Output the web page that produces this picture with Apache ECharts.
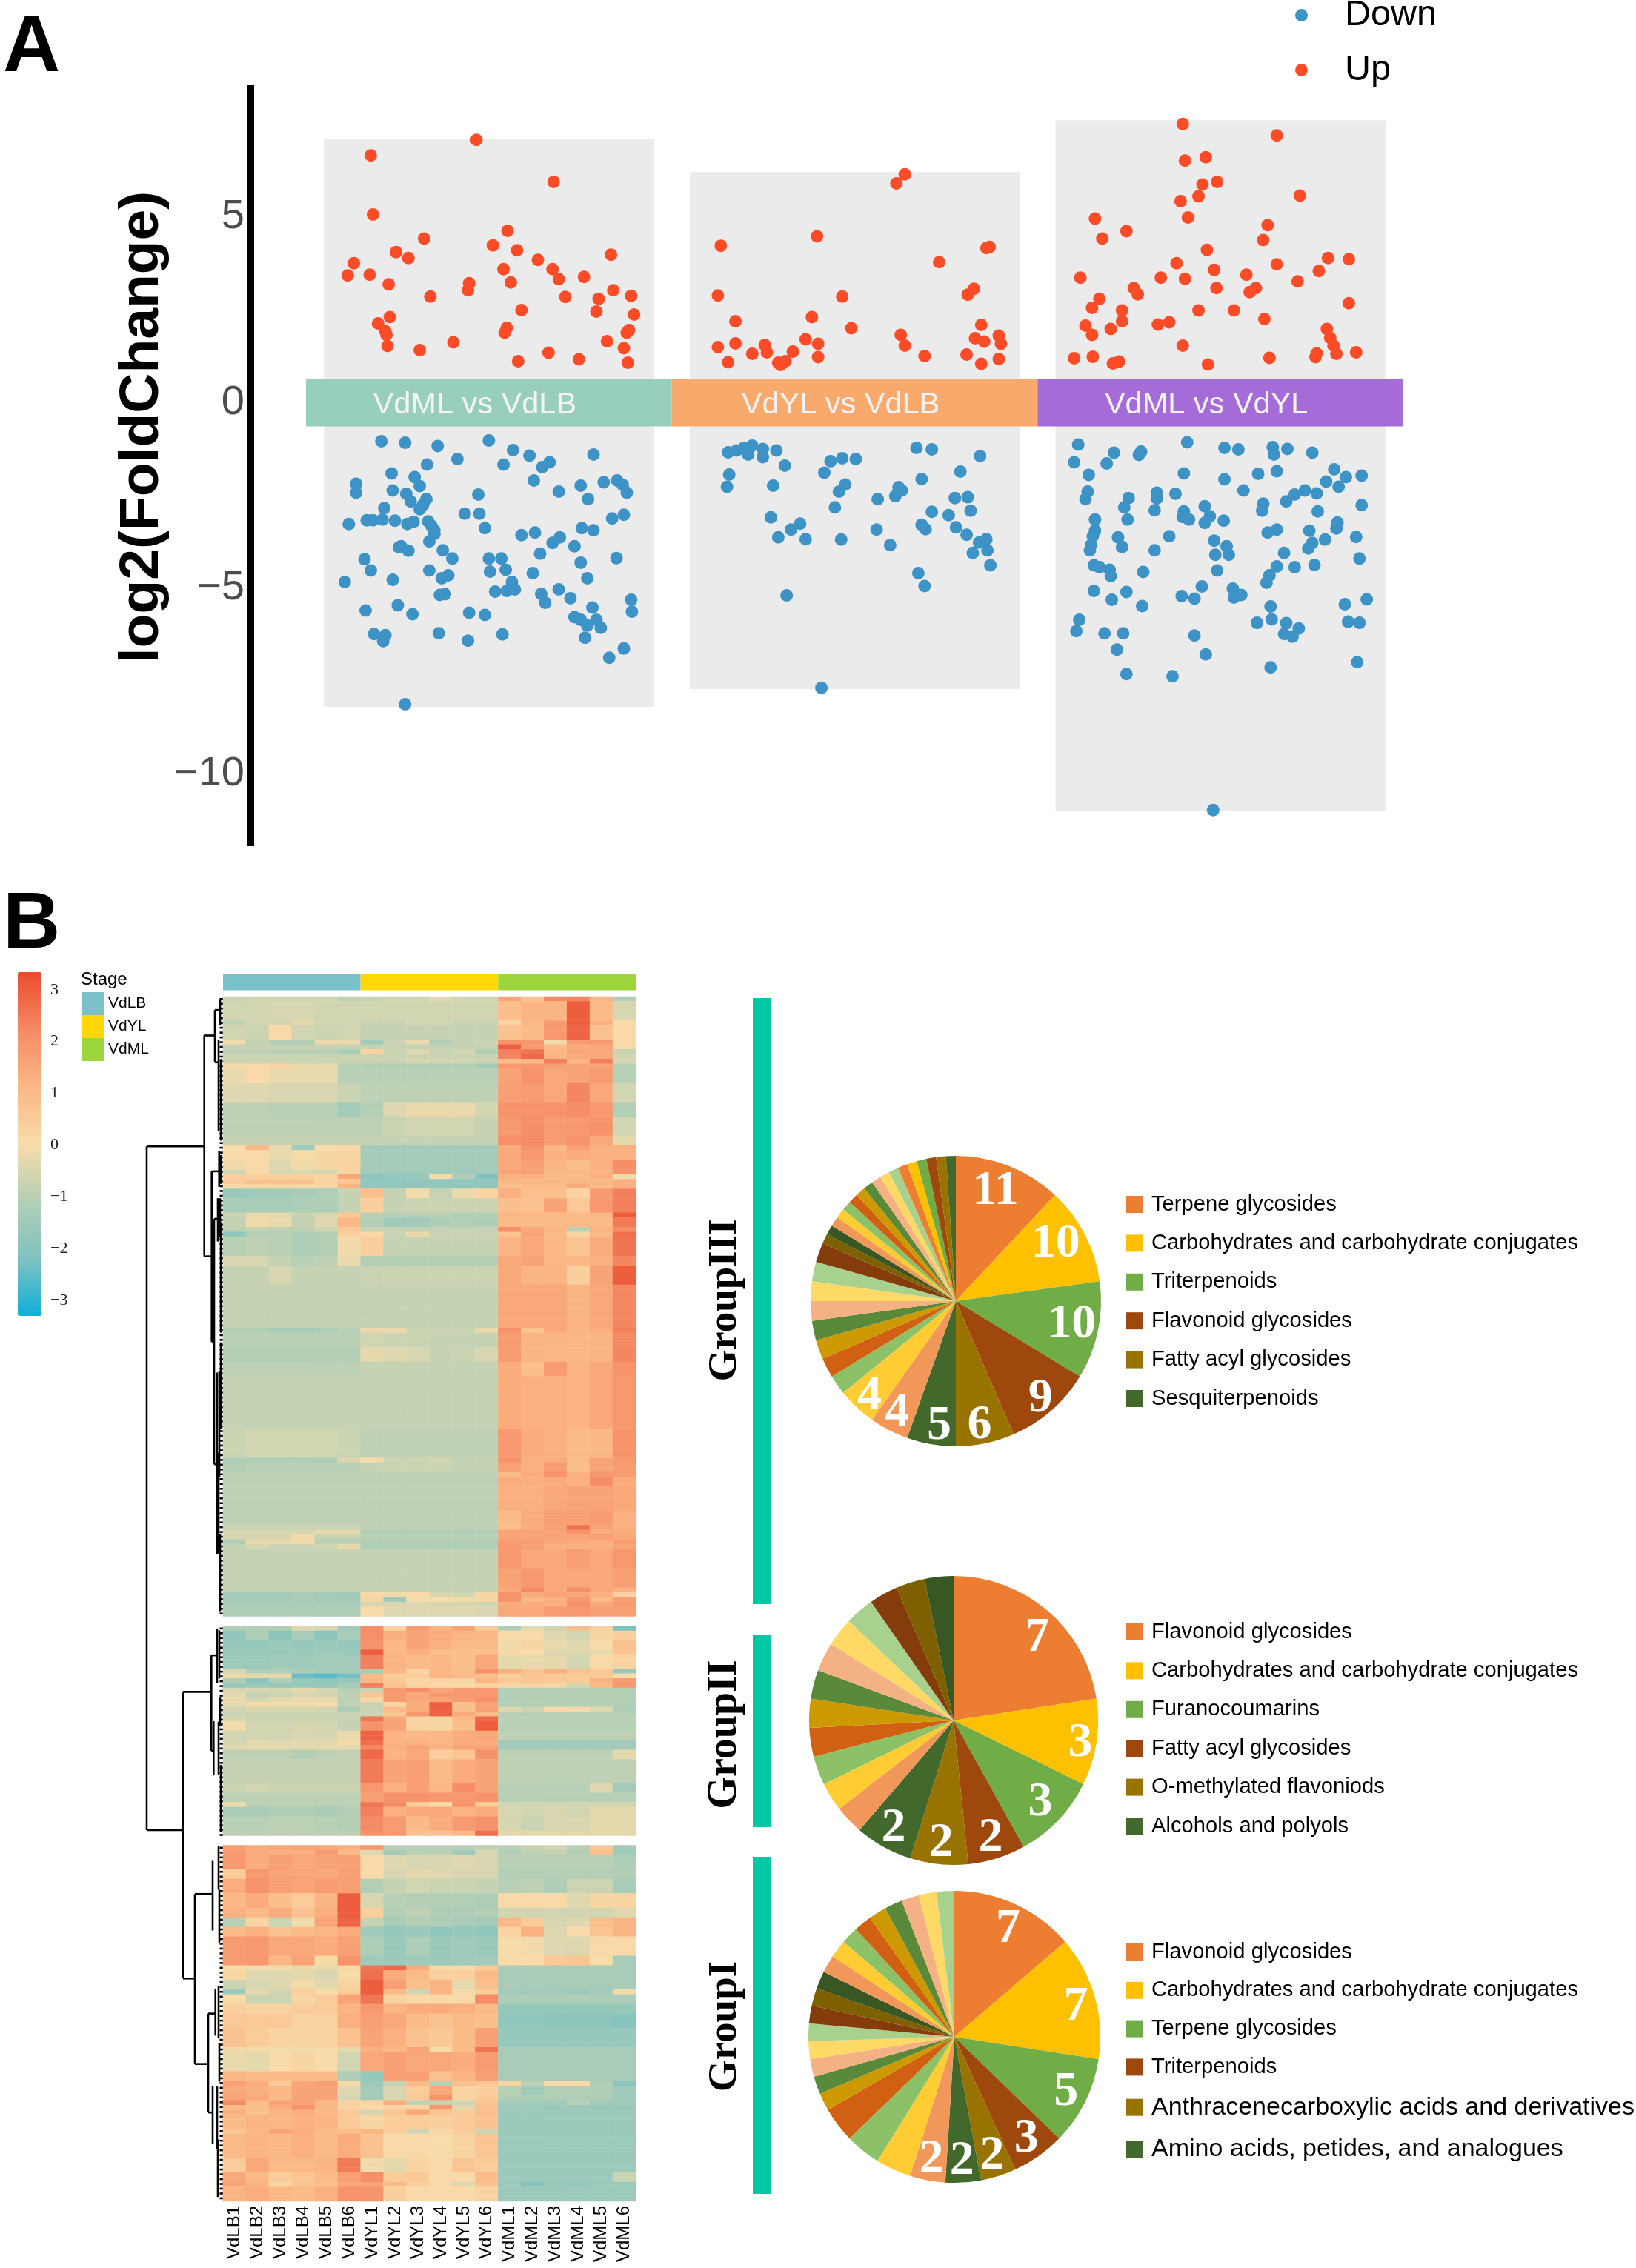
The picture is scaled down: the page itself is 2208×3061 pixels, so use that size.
<!DOCTYPE html>
<html><head><meta charset="utf-8">
<style>html,body{margin:0;padding:0;background:#fff}#c{width:2208px;height:3061px}</style>
<script src="https://cdn.jsdelivr.net/npm/echarts@6/dist/echarts.min.js"></script>
</head><body><div id="c"></div>
<script>
const SANS='"Liberation Sans",Arial,sans-serif', SERIF='"Liberation Serif","Times New Roman",serif';
// Panel A: [jitter 0-100 inside the group, log2(FoldChange)]
const comparisons=['VdML vs VdLB','VdYL vs VdLB','VdML vs VdYL'];
const panelRanges=[[7.1,-8.19],[6.2,-7.71],[7.6,-11.0]];
const up1=[[17.7,6.65],[46.6,7.07],[67.7,5.94],[18.3,5.06],[55.1,4.62],[32.3,4.41],[51.1,4.23],[24.6,4.05],[57.7,4.10],[28,3.89],[13.1,3.75],[63.4,3.84],[83.4,3.98],[67.4,3.59],[54,3.59],[11.4,3.42],[17.4,3.44],[69.1,3.32],[76,3.38],[56,3.23],[44.6,3.21],[22.6,3.18],[44.3,3.02],[34,2.85],[70.9,2.84],[80,2.79],[84,3.02],[88.9,2.87],[58.9,2.49],[79.4,2.45],[89.7,2.37],[22.9,2.30],[19.7,2.13],[21.7,1.92],[22,1.82],[54.9,2.01],[54.3,1.88],[88.3,1.95],[87.7,1.88],[82.3,1.65],[40.3,1.62],[22.3,1.52],[86.9,1.46],[31.1,1.41],[66.3,1.34],[58,1.11],[74.6,1.16],[88,1.07]];
const up2=[[63.7,6.14],[61.4,5.90],[39.7,4.47],[13.4,4.22],[86.9,4.19],[86,4.16],[73.1,3.78],[82.6,3.06],[80.9,2.90],[12.6,2.88],[46.6,2.85],[38.3,2.30],[17.4,2.19],[84.6,2.09],[49.1,2.00],[62.6,1.82],[36.6,1.70],[63.7,1.53],[82.9,1.73],[85.4,1.64],[89.4,1.80],[90,1.58],[17.4,1.59],[40,1.58],[12.6,1.49],[25.4,1.55],[26,1.35],[22,1.31],[33.1,1.37],[69.1,1.25],[80.6,1.29],[40,1.22],[89.4,1.17],[15.4,1.08],[29.1,1.07],[31.1,1.11],[29.7,1.01],[84.6,1.04]];
const up3=[[39.7,7.50],[65.4,7.19],[46,6.60],[40.3,6.51],[49.1,5.94],[45.1,5.87],[71.7,5.57],[44,5.55],[39.1,5.42],[41.1,4.98],[15.7,4.95],[62.9,4.77],[24.3,4.61],[17.7,4.41],[61.7,4.37],[46.3,4.11],[38,3.75],[79.4,3.89],[85.1,3.86],[65.4,3.72],[48.3,3.57],[76.9,3.54],[57.1,3.44],[11.7,3.36],[33.7,3.36],[40.3,3.33],[71.1,3.26],[26.3,3.08],[27.4,2.91],[48.9,3.08],[59.7,3.08],[58,2.97],[16.9,2.79],[14.9,2.55],[85.1,2.67],[23.1,2.48],[44,2.48],[53.7,2.48],[23.1,2.19],[62,2.25],[13.1,2.07],[32.9,2.10],[36,2.16],[20,1.98],[79.1,1.98],[14.9,1.82],[80,1.74],[39.7,1.53],[80.9,1.53],[81.7,1.31],[76.3,1.32],[76,1.22],[87.1,1.35],[63.4,1.20],[10,1.19],[15.1,1.23],[22.3,1.10],[20.6,1.05],[46.6,1.02]];
const down1=[[20.6,-1.04],[27.1,-1.08],[50,-1.02],[36,-1.17],[56.6,-1.28],[61.1,-1.43],[78.6,-1.40],[66.6,-1.61],[64.6,-1.74],[41.4,-1.52],[54,-1.67],[33.1,-1.67],[23.4,-1.91],[29.7,-2.01],[62.3,-2.10],[13.7,-2.19],[81.4,-2.15],[85.1,-2.10],[86.6,-2.22],[31.1,-2.25],[13.7,-2.43],[23.7,-2.37],[69.1,-2.40],[75.1,-2.24],[87.7,-2.43],[27.4,-2.46],[47.1,-2.48],[77.1,-2.60],[32.9,-2.60],[28.6,-2.66],[32,-2.75],[31.1,-2.87],[21.4,-2.84],[43.4,-2.99],[47.4,-2.99],[86.9,-3.02],[83.7,-3.12],[16.6,-3.17],[18.3,-3.17],[20.9,-3.15],[24.3,-3.18],[33.4,-3.20],[11.7,-3.27],[29.4,-3.21],[27.7,-3.27],[34.3,-3.32],[48.9,-3.38],[35.1,-3.44],[35.1,-3.54],[75.4,-3.38],[78.6,-3.44],[58.9,-3.57],[62.6,-3.50],[69.4,-3.63],[67.4,-3.78],[33.7,-3.74],[26,-3.87],[25.4,-3.90],[28,-3.99],[73.4,-3.87],[37.4,-3.98],[64,-4.07],[40,-4.20],[50,-4.20],[53.4,-4.20],[16,-4.22],[84.9,-4.19],[75.1,-4.31],[17.7,-4.52],[33.7,-4.52],[50.3,-4.55],[54.6,-4.50],[62,-4.59],[38.9,-4.65],[37.1,-4.73],[76.9,-4.73],[23.7,-4.77],[10.6,-4.83],[56.3,-4.83],[57.1,-5.03],[54.9,-5.07],[51.7,-5.09],[69.1,-5.03],[38,-5.16],[36.6,-5.18],[64.3,-5.15],[72.3,-5.27],[65.4,-5.39],[88.9,-5.31],[25.1,-5.46],[78.3,-5.52],[16.3,-5.60],[29.1,-5.70],[44.6,-5.66],[48.9,-5.72],[89.1,-5.63],[73.4,-5.78],[75.1,-5.85],[79.4,-5.85],[76.9,-6.00],[80.6,-6.06],[36.3,-6.21],[18.6,-6.23],[21.7,-6.26],[21.1,-6.42],[44.3,-6.41],[53.7,-6.24],[76.3,-6.33],[86.9,-6.62],[82.9,-6.87],[27.1,-8.12]];
const down2=[[15.4,-1.34],[17.7,-1.29],[19.7,-1.22],[22,-1.16],[20.9,-1.40],[24.9,-1.25],[24.9,-1.47],[28.6,-1.29],[30.9,-1.70],[43.4,-1.58],[46.6,-1.50],[50.3,-1.52],[66.9,-1.22],[71.1,-1.26],[84.3,-1.44],[41.7,-1.89],[15.7,-1.94],[78.9,-1.86],[68.3,-2.06],[15.1,-2.27],[27.7,-2.24],[47.4,-2.21],[45.7,-2.40],[62,-2.28],[62.9,-2.37],[61.1,-2.52],[56.3,-2.60],[77.4,-2.57],[80.9,-2.55],[44.6,-2.82],[71.1,-2.94],[81.7,-2.91],[75.7,-3.03],[27.1,-3.09],[35.1,-3.26],[32.6,-3.42],[29.1,-3.63],[36.6,-3.68],[46.3,-3.69],[56,-3.42],[68.3,-3.29],[69.4,-3.41],[77.7,-3.36],[80.6,-3.56],[59.7,-3.84],[84,-3.77],[86,-3.68],[86.3,-3.98],[82.3,-4.05],[87.1,-4.38],[67.4,-4.59],[69.1,-4.94],[31.4,-5.19],[40.9,-7.68]];
const down3=[[11.1,-1.13],[40.9,-1.07],[51.1,-1.22],[54.9,-1.26],[64.3,-1.20],[68.3,-1.25],[64.6,-1.40],[75.1,-1.35],[20.9,-1.35],[28.3,-1.32],[27.7,-1.41],[10,-1.61],[18.9,-1.64],[14,-1.95],[40,-1.91],[51.1,-2.07],[60.3,-1.92],[65.4,-1.85],[81.1,-1.80],[88.6,-1.97],[84.3,-2.01],[78.9,-2.13],[82.3,-2.27],[56.3,-2.37],[76.3,-2.45],[73.1,-2.37],[70.3,-2.48],[68,-2.66],[13.7,-2.40],[13.1,-2.60],[24.9,-2.57],[32.6,-2.43],[32.6,-2.58],[37.7,-2.46],[23.7,-2.82],[32,-2.90],[45.7,-2.79],[61.7,-2.72],[61.4,-2.91],[76.6,-2.93],[88.6,-2.76],[40,-2.93],[39.7,-3.08],[41.4,-3.15],[47.1,-3.06],[45.7,-3.24],[50.9,-3.18],[24.6,-3.15],[15.7,-3.15],[82,-3.23],[81.7,-3.39],[15.7,-3.45],[15.1,-3.60],[65.4,-3.42],[62.9,-3.50],[74.3,-3.45],[87.1,-3.62],[22,-3.63],[36,-3.60],[48.3,-3.72],[78.6,-3.69],[75.1,-3.78],[74,-3.93],[14.6,-3.84],[14.3,-3.98],[23.1,-3.89],[32,-3.98],[51.7,-3.87],[52.3,-4.10],[48.6,-4.10],[67.4,-4.05],[88,-4.20],[15.4,-4.38],[16.9,-4.43],[19.7,-4.50],[20,-4.67],[28.9,-4.56],[65.4,-4.41],[70.3,-4.43],[75.7,-4.37],[49.1,-4.52],[63.4,-4.65],[62.6,-4.85],[44.9,-4.95],[15.4,-5.07],[24.3,-5.10],[53.4,-5.01],[20.3,-5.31],[39.4,-5.21],[42.9,-5.28],[53.7,-5.25],[55.7,-5.18],[90,-5.30],[84,-5.43],[28.6,-5.48],[63.7,-5.49],[11.4,-5.85],[64,-5.84],[60,-5.93],[68,-5.94],[71.4,-6.08],[84.9,-5.90],[88,-5.93],[10.6,-6.15],[18.3,-6.21],[23.4,-6.21],[42.9,-6.27],[67.4,-6.23],[69.7,-6.30],[21.7,-6.65],[46,-6.78],[63.7,-7.13],[87.4,-6.99],[24.3,-7.31],[36.9,-7.37],[48,-10.97]];
const yTicks=[-10,-5,0,5];
// Panel B heatmap: samples and row blocks [row count, 18 z-scores]
const samples=['VdLB1','VdLB2','VdLB3','VdLB4','VdLB5','VdLB6','VdYL1','VdYL2','VdYL3','VdYL4','VdYL5','VdYL6','VdML1','VdML2','VdML3','VdML4','VdML5','VdML6'];
const stages=['VdLB','VdYL','VdML'];
const colorTicks=[-3,-2,-1,0,1,2,3];
const groupIII=[
[1,-.7,-.6,-.6,-.6,-.6,-.9,-.8,-.6,-.6,-.3,-.6,-.6,1.6,.8,2.2,2.3,1.2,-1.1],
[4,-.6,-.6,-.5,-.5,-.6,-.6,-.6,-.6,-.6,-.6,-.6,-.6,.9,1.2,1.2,3,1,-.5],
[1,-.9,-.6,-.6,-.3,-.6,-.6,-.8,-.7,-.6,-.6,-.7,-.7,.3,1.1,1.8,3,1.3,0],
[3,-.6,-.7,.1,-.6,-.7,-.6,-.8,-.8,-.8,-.8,-.8,-.8,.8,1,1.9,2.9,.8,.1],
[1,-.1,-.8,-1.1,-1.1,-.2,-.2,-1.5,-.7,-.2,-1.1,-.8,-.7,2,1.9,-.1,1.8,1.9,.1],
[1,-.8,-.8,-.8,-.8,-.8,-.8,-.8,-.8,-.8,-.8,-.8,-.8,3,1.8,1,1.4,1.5,.1],
[1,-.9,-.9,-1,-1,-1,-1.3,.3,-.7,-.4,-.8,-.6,-1.1,2.4,2.6,1.1,1.5,1.5,-.7],
[1,-.7,-.7,-.7,-.7,-.7,-.7,-.7,-.7,-.7,-.7,-.7,-.7,2.3,2.8,1.2,1.4,1.5,-.6],
[1,-.7,-.7,-.7,-.7,-.7,-.7,-.7,-.7,-.5,-.6,-.6,-.7,1,1.1,2.4,1.1,2.4,-.5],
[1,0,.1,.3,-.2,-.2,-1,-1.1,-1.1,-1.1,-1.1,-1.1,-1.4,1.9,1.9,1.7,1.6,1.6,-1],
[3,-.2,.1,-.2,-.2,-.2,-1,-1,-1,-1,-1,-1,-1,1.6,2,1.5,1.6,1.8,-1],
[4,-.4,-.4,-.5,-.5,-.5,-.7,-.9,-.9,-.9,-.9,-.9,-.9,1.7,1.8,1.5,2.3,1.5,-.6],
[3,-.9,-.9,-1,-1,-1,-1.4,-1.1,-.4,-.2,-.2,-.2,-.6,2,2,2,2.1,1.9,-1.1],
[4,-.9,-.9,-.9,-.9,-.9,-.9,-.9,-.7,-.6,-.6,-.6,-.8,1.9,2.1,1.8,1.9,2,-.6],
[2,-.8,-.8,-.8,-.8,-.8,-.8,-.8,-.8,-.8,-.8,-.8,-.8,2.1,2.2,1.8,2,1.5,-.3],
[1,0,1,-.2,-1.5,0,.1,-1.4,-1.4,-1.4,-1.4,-1.4,-1.4,1.4,2,1.1,1.7,1.3,1.3],
[2,0,.1,-.2,0,.2,.2,-1.4,-1.4,-1.4,-1.4,-1.4,-1.4,1.5,1.9,1.3,1.4,1.3,1.3],
[2,-.1,.1,-.4,-.1,.2,.3,-1.4,-1.4,-1.4,-1.4,-1.4,-1.4,1.5,1.7,1.2,.9,1.3,2.1],
[1,-.6,.1,-.5,-.4,-.5,.3,-1.5,-1.5,-1.5,-1.5,-1.5,-1.5,1.6,1.7,1.1,1.1,1.2,2],
[1,.4,.4,.4,.4,.2,1.5,-1.9,-1.8,-1.7,-.1,-1.2,-2.1,1.3,1.3,1,1,1.3,-.1],
[1,.6,.8,.8,.8,.3,.6,-1.8,-1.8,-1.8,-1.8,-1.8,-1.8,1.1,1.1,1.1,1.1,1.1,1.3],
[1,.1,.2,.2,.2,.2,1.2,-1.8,-1.8,-1.8,-1.8,-1.8,-1.8,.9,1,1,1.4,1,1.3],
[2,-1.6,-1.5,-1.4,-1.3,-1.2,-.8,.9,-.8,-.1,-.8,-.2,.3,1.3,.9,.9,.3,1.8,2.4],
[3,-1.3,-1.3,-1.3,-1.2,-1.2,-.8,.4,-.8,-.7,-.7,-.7,-.7,.9,.8,1.6,.6,1.9,2.4],
[1,-.7,-.3,-.3,-.7,-.5,.6,-1,-1,-1,-1,-1.1,-1.1,1.1,1.1,1,1,1.1,3],
[2,-.8,-.1,-.2,-.8,-.4,1.1,-1.1,-1.5,-1.4,-1.2,-1.1,-1.2,1,1,1,1,1,2.5],
[1,-.9,-.8,-.9,-.9,-.6,.6,-.8,-.8,-.8,-.8,-.8,-.8,2.1,1.5,1.2,-1,1.2,2.1],
[1,-1.8,-1.1,-1,-1.2,-1.1,.4,.1,-.7,-.2,-.7,-.7,-.7,.8,1.6,1,.2,1,2.7],
[4,-1,-.9,-1,-1.2,-1.1,-.1,.4,-.8,-.8,-.8,-.8,-.8,1.2,1.5,1.1,.7,1.4,2.6],
[2,-.5,-.5,-.8,-1,-.9,-.2,-1.1,-1.1,-1.1,-1.1,-1.1,-1.1,1.5,1.6,1.1,1.1,1.3,2.3],
[4,-.8,-.8,-.5,-.8,-.8,-.8,-.7,-.7,-.7,-.7,-.7,-.7,1.5,1.2,1.2,.4,1.6,3],
[9,-.8,-.8,-.8,-.8,-.8,-.8,-.8,-.8,-.8,-.8,-.8,-.8,1.5,1.5,1.5,1.2,1.5,2.3],
[1,-1.1,-1.1,-1.3,-1.3,-1.2,-1,-.2,-.2,-.7,-.7,-.7,-.2,2,.7,1.5,1.2,1.4,2.4],
[3,-1,-1,-1,-1,-1,-1,-.6,-.7,-.7,-.8,-.8,-.8,1.8,1.2,1.2,1.1,1.2,2.2],
[3,-1.1,-1.1,-1.1,-1.1,-1.1,-1.1,-.3,-.4,-.5,-.8,-.7,-.5,1.8,1.2,1.1,1.1,1.2,2.3],
[3,-.9,-.9,-.9,-.9,-.9,-.9,-.8,-.8,-.8,-.8,-.8,-.8,1.4,.9,1.8,1.2,1.5,2],
[11,-.8,-.8,-.8,-.8,-.8,-.8,-.8,-.8,-.8,-.8,-.8,-.8,1.4,1.3,1.3,1.2,1.5,1.9],
[6,-.7,-.6,-.6,-.6,-.6,-.7,-.9,-.9,-.9,-.9,-.9,-.9,1.9,1.4,1.3,1,1.1,2],
[1,-1.2,-1.2,-1.2,-1.2,-1.2,-.5,-.1,-.7,-.7,-.6,-.8,-.8,2,1.3,1.4,1,1.6,1.9],
[2,-1.1,-1,-1,-1,-1,-1,-.8,-.7,-.7,-.7,-.8,-.8,1.7,1.3,1.8,.9,1.6,1.8],
[1,-.9,-.9,-.9,-.9,-.9,-.9,-.9,-.9,-.9,-.9,-.9,-.9,1,1.4,2,1.3,1.9,1.8],
[2,-.9,-.9,-.9,-.9,-.9,-.9,-.9,-.9,-.9,-.9,-.9,-.9,1.4,1.3,1.4,1.3,2.1,1.4],
[5,-.9,-.9,-.9,-.9,-.9,-.9,-.9,-.9,-.9,-.9,-.9,-.9,1.3,1.3,1.5,1.6,1.6,1.5],
[3,-.9,-.9,-.9,-.9,-.9,-.9,-.9,-.9,-.9,-.9,-.9,-.9,1,1.4,1.7,1.7,1.8,1.3],
[1,-.7,-.7,-.7,-.7,-.7,-.7,-.9,-.9,-.9,-.9,-.9,-.9,.9,1.4,1.7,2.7,1.6,1.3],
[1,-.5,-.5,-.5,-.5,-.3,-.3,-1.1,-1.1,-1.1,-1.1,-1.2,-1.1,1.6,1.6,1.6,2,1.4,1.4],
[1,-.5,-.5,-.5,-.1,-.8,-.8,-1,-1,-1,-1,-1,-1,1.6,1.6,1.6,1.6,1.7,1.5],
[1,-1.2,-.2,-.2,-.1,-1,-1,-1.1,-1.1,-1.1,-1.1,-1.1,-1.1,1.8,1.8,1.5,1.4,1.4,1.8],
[1,-.8,-.5,-.7,-.7,-.6,-.2,-1.2,-1.2,-1.2,-1.2,-1.2,-1.2,1.9,1.7,1.3,1.3,1.3,1.6],
[4,-.8,-.8,-.8,-.8,-.8,-.8,-.8,-.8,-.8,-.8,-.8,-.8,1.9,1.5,1.5,1.7,1.5,1.9],
[4,-.8,-.8,-.8,-.8,-.8,-.8,-.8,-.8,-.8,-.8,-.8,-.8,1.6,1.9,1.5,1.5,1.5,1.7],
[1,-.8,-.8,-.8,-.8,-.8,-.8,-.8,-.8,-.8,-.8,-.8,-.8,1.5,2.2,1.5,2.1,1.5,1.3],
[1,-1.4,-1.4,-1.4,-1.3,-1.4,-1.5,.1,-.1,.1,-.5,-.6,.2,2,1.4,1.6,1.5,1.3,.3],
[1,-1.4,-1.4,-1.4,-1.3,-1.4,-1.4,.2,-1.5,-.1,0,-.1,.2,2,1.1,1.3,1.9,1,1.7],
[1,-1.3,-1.3,-1.3,-1.3,-1.3,-1.3,-.5,-.5,-.4,-.5,-.5,-.6,1.4,1.4,1.3,2,1.5,1.8],
[2,-1.2,-1.2,-1.2,-1.2,-1.2,-1.2,0,-.4,-.4,-.4,-.4,-.5,1.5,1.5,1.8,1.9,1.7,1.7]];
const groupII=[
[1,-1.1,-1.1,-1.1,-.4,-.5,-1.5,2.1,.3,1.8,1.2,1.6,.5,-1.2,-.3,-.6,.9,.3,-2.2],
[2,-1.8,-1.2,-1.9,-1.3,-1.9,-1.3,2.1,1.3,1.6,1.4,1.2,1.1,0,.1,-.4,-.6,.2,.4],
[2,-1.7,-1.7,-1.6,-1.7,-1.6,-1.7,2,1.1,1.6,1.3,1,1,-.1,.2,-.2,-.4,0,.8],
[1,-1.6,-1.6,-1.6,-1.6,-1.6,-1.6,3,1.1,1.3,.9,.9,.9,.1,0,-.4,-.4,-.2,.7],
[3,-1.6,-1.6,-1.5,-1.5,-1.4,-1.4,2.4,1.2,1,1.1,.9,1.5,-.3,-.2,-.3,-.6,.1,.3],
[1,-.5,-1.2,-1.1,-1.2,-1.3,-1.4,-1.3,1.1,.3,1.1,.9,2,1.3,.7,1.3,.8,.6,-1.6],
[1,-.2,-.3,-.3,-2.4,-2.6,-2.3,1,.5,.5,1.2,1,.9,.4,.8,.6,.6,.6,0],
[1,-1.1,-1.9,-1.2,-1.7,-1.8,-1.7,1.1,.6,.2,.3,.2,1.2,.6,.7,.6,.5,1.2,1.8],
[1,-1.7,-1.6,-1.7,-1.7,-1.7,-1.3,2.4,.7,.2,.1,.1,.3,.2,.2,.2,-.6,1,1.9],
[1,-.5,-.5,-.5,-.3,-.5,-1,-.7,1.9,2.1,1.6,1.8,1.9,-1.1,-1.1,-1.1,-1.1,-1.1,-1.1],
[1,-.3,-.8,-.7,-.5,-.6,-.9,.7,1.8,1.5,1.9,1.9,1.9,-1.1,-1.1,-1.1,-1.1,-1.1,-1.1],
[1,-.2,-.6,-.3,-.2,-.2,-.9,.2,1.8,1.5,1.6,1.8,2,-1.1,-1.1,-1.1,-1.1,-1.1,-1.1],
[1,-.3,.1,-.1,-.1,0,-.9,-.8,.2,1.4,3,.8,1.6,-1.1,-1.1,-1.1,-1.1,-1.1,-1.1],
[1,-.6,-.5,-.5,-.5,-.6,-1.2,-.7,1,1.4,2.9,.9,1.7,-.4,-.7,.1,-.1,-.4,-1.2],
[1,-.7,-.7,-.7,-.7,-.7,-.7,-.7,.7,1.9,2.9,1.4,1,-1,-1,-1,-1,-1,-1],
[1,-.5,-.7,-.7,-.7,-.7,-.8,2.6,1.5,.2,.2,1,2.8,-.9,-.9,-.9,-.9,-.9,-.9],
[2,-.1,-.6,-.6,-.5,-.6,-.8,2,1.6,.3,.2,.9,3,-1,-1,-1,-1,-1,-1],
[2,-.6,-.6,-.6,-.5,-.5,-.2,2.9,1.2,1.1,1.1,1.4,1.5,-.9,-.9,-.9,-.9,-.9,-.9],
[1,-.5,-.3,-.4,-.3,-.3,0,2.7,1.2,1.3,1.1,1.4,1.4,-1.4,-1.4,-1.4,-1.4,-1.4,-1.4],
[1,-.3,-.3,-.3,-.3,-.3,-.3,2.3,1.3,1.6,1.3,1.6,1.6,-1.4,-1.4,-1.4,-1.4,-1.4,-1.4],
[2,-.9,-.9,-.9,-1.1,-.9,-.8,2.8,1.2,1.5,.4,.7,2,-.9,-.9,-.9,-.9,-.9,-.3],
[5,-.8,-.8,-.8,-.8,-.8,-.8,2.5,1.6,1.7,1,1.4,1.6,-.9,-.9,-.9,-.9,-.9,-.9],
[2,-.7,-.6,-.7,-.7,-.7,-.7,1.9,1.3,1.7,1.1,2.1,1.6,-1,-1,-1,-1,-.4,-1.4],
[2,-.9,-.9,-.9,-.9,-.9,-.9,1.7,2,2,1.9,1.9,2,-1,-1,-1,-1,-1,-1],
[1,-.2,-.9,-.9,-.9,-.9,-.9,2.6,2.2,.5,.1,2,.5,-.6,-.6,-.6,-.6,-.6,-.6],
[2,-1.3,-1.3,-1.2,-1.2,-1.3,-1.1,2.4,1.3,1.5,1.5,1.2,1.4,-.5,-.6,-.5,-.6,-.3,-.3],
[3,-1,-1,-.9,-.9,-1,-1.1,2.2,1.8,1,1.4,1.8,2,-.5,-.7,-.5,-.5,-.3,-.3],
[1,-.9,-.9,-.9,-.9,-.9,-.9,2,1.9,.8,.8,1.1,2.7,-.3,-.3,-.3,-.3,-.3,-.3]];
const groupI=[
[1,1.7,1.4,1.5,1.6,1.5,1.3,1.9,-1,-1,-1,-1,-.9,-1,-.7,-.6,-1,.6,-1.4],
[1,1.8,1.4,1.3,1.3,1.8,1,-.4,-1.4,-1,-.9,-1.5,-.5,-1.1,-.9,-.8,-1.1,.8,-1.5],
[3,1.9,1.4,1.7,1.5,1.6,1.7,.1,-.4,-.5,-.5,-.4,-.5,-1,-1,-1,-1,-1,-1.2],
[2,.5,1.9,1.6,1.6,1.5,1.7,.1,-.5,-.3,-.4,-.5,-.5,-1.1,-1.1,-1.1,-1.1,-1.1,-1.1],
[3,1.4,2,1.7,1.6,1.8,1.7,-1.1,-.8,-.6,-.7,-.7,-.8,-1,-.9,-1.2,-.7,-.7,-1.3],
[3,1.1,1.4,.9,.5,1.2,3,-.5,-1,-1.1,-1.1,-1.1,-1.2,.1,.1,.1,-.4,.2,.2],
[2,1.3,1.1,1.4,.8,1.4,3,.4,-1.1,-.9,-1.2,-1.2,-1.1,-.6,-.6,-.6,-.6,-.6,-.4],
[2,-1,.3,-.7,-.1,1.6,2.9,-.8,-1.3,-1.1,-1.2,-1.3,-1.4,1.1,.5,-.5,-.4,.9,1.2],
[2,1,1.3,.8,1,1.1,1.4,-1.5,-1.7,-1.6,-1.8,-1.7,-1.8,.3,1.3,-.4,0,.7,1.2],
[4,1.8,1.9,1.5,1.5,1.4,1.7,-1.2,-1.6,-1.2,-1.6,-1.5,-1.6,0,-.1,-.4,-.4,.1,.1],
[2,1.8,1.9,1.1,1.6,0,2,-1.5,-1.6,-1.5,-1.6,-1.5,-1.4,0,0,.6,.7,0,-1.3],
[1,0,-.1,-.1,-.2,-.2,.1,2.6,2.8,1.4,.1,.1,.5,-1.3,-1.3,-1.3,-1.3,-1.3,-1.3],
[2,.2,-.4,-.4,-.3,-.5,0,2.7,1.4,1,.4,.4,1,-1.3,-1.3,-1.3,-1.3,-1.3,-1.3],
[2,-.7,-.5,-.4,-.1,-.3,.3,3,1.7,.9,1.2,-.3,.9,-1.3,-1.3,-1.3,-1.3,-1.3,-1.3],
[1,-1.6,-.3,-.6,.4,0,.5,3,1,-.6,1.2,-.1,.5,-1.4,-1.4,-1.4,-1.6,-1.4,-.1],
[2,0,-.7,-.7,.2,.5,1.6,2.6,.3,.1,.1,.1,2.2,-1.2,-1.2,-1.2,-1.2,-1.2,-1.2],
[2,.4,.3,.3,.5,.5,1.2,1.9,1.2,1.4,1.4,1.3,1,-1.7,-1.7,-1.7,-1.7,-1.7,-1.7],
[3,.6,.6,.6,.3,.3,1.3,1.7,1.5,1,.8,1,.9,-1.8,-1.8,-1.9,-1.9,-1.9,-2],
[4,.8,.5,.3,.2,.3,.8,1.6,1.3,.8,.6,1,1.7,-1.7,-1.7,-1.7,-1.7,-1.7,-1.7],
[1,-.1,-.1,-.1,-.1,0,-.3,1.3,1.1,1.6,.1,1,2.6,-1.3,-1.3,-1.3,-1.3,-1.3,-1.3],
[4,-.2,-.3,0,.2,0,-.6,1.5,1.7,1.5,1.5,1.4,1.8,-1.3,-1.3,-1.3,-1.3,-1.3,-1.3],
[2,1.1,1,1,1,1,-1.2,-1.7,1.7,1.7,.8,1.2,1.7,-1.3,-1.3,-1.3,-1.3,-1.3,-1.3],
[1,1.7,1.4,.6,1.5,1.7,.1,-1.6,-.8,1,-1,.9,.7,.2,-.9,.1,.1,-1.2,-1.9],
[2,1.5,1.3,1.1,1.6,1.6,-.4,-1.4,-.5,.5,1.5,.3,.4,-1,-1.5,-1.1,-1.1,-1.2,-1.5],
[1,1.6,1.5,1,1.6,1.6,-.5,-1.4,-.5,.6,2,.2,.6,-1.2,-1.2,-1.2,-1.2,-1.2,-1.5],
[1,2.2,.9,1.6,1.6,1.1,.3,.3,1.4,-.9,-.8,-.6,.7,-1.4,-1.5,-1.5,-1,-1.5,-1.5],
[1,1,.9,1.4,2,1.1,.3,.1,.3,.3,1.9,-.4,.9,-1.6,-1.6,-1.6,-1.6,-1.6,-1.6],
[1,1.3,.8,1.2,1.3,1,.6,-.5,.7,1.5,.7,.5,.9,-1.6,-1.6,-1.6,-1.6,-1.6,-1.6],
[3,1,1.2,1.1,1.3,1.2,.6,.2,.5,.5,.4,.6,.8,-1.6,-1.6,-1.6,-1.6,-1.6,-1.6],
[1,.7,1.1,1.6,1.4,1,.9,1.2,.5,-.6,.1,.5,-.7,-1.6,-1.6,-1.6,-1.6,-1.6,-1.6],
[5,1,1.2,1.1,1.3,1,1.4,.8,.1,.1,0,.3,.7,-1.6,-1.6,-1.6,-1.6,-1.6,-1.6],
[3,.5,1.5,1,1,1.2,2.5,-.1,-.3,.3,.1,.7,.5,-1.6,-1.6,-1.6,-1.6,-1.6,-1.6],
[2,1.5,1,.5,.7,1,1.7,2.1,.5,.6,.1,.1,1,-1.6,-1.6,-1.6,-1.6,-1.6,-.7],
[1,1.6,1.2,.2,.7,.9,1.5,1.6,1,.4,.1,-.4,.8,-1.6,-2,-1.7,-1.8,-1.6,-1.6],
[3,1.2,1.4,1.1,1,1.3,2,2,.4,.1,.1,.1,.3,-1.6,-1.6,-1.6,-1.6,-1.6,-1.6]];
// Row dendrogram: [height1,rowPos1,height2,rowPos2]
const dendroSegments=[[103,31.2,103,173.6],[103,31.2,25.3,31.2],[103,173.6,54,173.6],[25.3,8.1,25.3,54.1],[25.3,8.1,11,8.1],[25.3,54.1,15.3,54.1],[11,2.8,11,13.7],[11,2.8,4,2.8],[11,13.7,6,13.7],[15.3,36.4,15.3,71.9],[15.3,36.4,5.3,36.4],[15.3,71.9,12,71.9],[5.3,32.2,5.3,39.6],[12,46.3,12,97.4],[12,46.3,7,46.3],[12,97.4,8,97.4],[7,42,7,51],[8,78.3,8,116.2],[54,144.8,54,204.5],[54,144.8,15.7,144.8],[54,204.5,38,204.5],[15.7,137.2,15.7,157.1],[15.7,137.2,8,137.2],[15.7,157.1,12.7,157.1],[8,131.6,8,142.9],[12.7,150.9,12.7,162.2],[38,186.9,38,222.3],[38,186.9,14,186.9],[38,222.3,20,222.3],[14,180,14,194.5],[20,211.8,20,232.4],[20,211.8,10.3,211.8],[20,232.4,14,232.4],[10.3,206.6,10.3,216.4],[14,226.9,14,238.9],[4,.5,4,6],[6,9,6,28],[3,13,3,30],[3,33,3,39],[4,42,4,50],[3,47,3,70],[3,72,3,90],[5,78,5,100],[6,95,6,116],[4,112,4,128],[5,132,5,142],[4,146,4,152],[6,151,6,162],[3,160,3,174],[6,177,6,186],[5,186,5,197],[6,206,6,217],[5,218,5,226],[8,227,8,240],[7,238,7,250]];
// Pies
const pieColors=['#ED7D31','#FFC000','#70AD47','#9E480E','#997300','#43682B','#F1975A','#FFCD33','#8CC168','#D26012','#CC9A00','#5A8A39','#F4B183','#FFD966','#A9D18E','#843C0B','#7F6000','#385723'];
const sliceColor=i=>i<18?pieColors[i]:(i<27?pieColors[i-12]:pieColors[i-27]);
const pieIIINames=['Terpene glycosides','Carbohydrates and carbohydrate conjugates','Triterpenoids','Flavonoid glycosides','Fatty acyl glycosides','Sesquiterpenoids'];
const pieIIIValues=[11,10,10,9,6,5,4,4,2,2,2,2,2,2,2,2,1,1,1,1,1,1,1,1,1,1,1,1,1,1,1,1,1];
const pieIILabels=6,pieIIILabels=8,pieILabels=7;
const pieIINames=['Flavonoid glycosides','Carbohydrates and carbohydrate conjugates','Furanocoumarins','Fatty acyl glycosides','O-methylated flavoniods','Alcohols and polyols'];
const pieIIValues=[7,3,3,2,2,2,1,1,1,1,1,1,1,1,1,1,1,1];
const pieINames=['Flavonoid glycosides','Carbohydrates and carbohydrate conjugates','Terpene glycosides','Triterpenoids','Anthracenecarboxylic acids and derivatives','Amino acids, petides, and analogues'];
const pieIValues=[7,7,5,3,2,2,2,2,2,2,1,1,1,1,1,1,1,1,1,1,1,1,1,1,1,1,1];

const rowsOf=b=>{const r=[];b.forEach(x=>{for(let i=0;i<x[0];i++)r.push(x.slice(1));});return r;};
const cellsOf=rows=>{const d=[];rows.forEach((r,y)=>r.forEach((v,x)=>d.push([x,y,v])));return d;};
const rowH=6.48,HT=1345;
const blocks=[{b:groupIII,top:1345,h:836.6},{b:groupII,top:2194.5,h:283},{b:groupI,top:2490.5,h:480.5}];

const grids=[],xAxes=[],yAxes=[],series=[];
grids.push({left:413,top:115,width:1481,height:1027});
xAxes.push({type:'value',min:0,max:300,show:false});
yAxes.push({type:'value',min:-11.94,max:8.54,offset:75,splitLine:{show:false},
  axisLine:{show:true,onZero:false,lineStyle:{color:'#000',width:10,cap:'butt'}},axisTick:{show:false},
  axisLabel:{customValues:yTicks,fontFamily:SANS,fontSize:56,color:'#4d4d4d',margin:8,formatter:v=>String(v).replace('-','\u2212')},
  name:'log2(FoldChange)',nameLocation:'middle',nameGap:108,nameMoveOverlap:false,nameTextStyle:{fontFamily:SANS,fontWeight:'bold',fontSize:75,color:'#000',padding:[0,0,0,104]}});
const shift=(arr,g)=>arr.map(p=>[p[0]+g*100,p[1]]);
const bandColors=['#97CFBB','#F9A96B','#A56CD9'];
const areas=[];
panelRanges.forEach((r,g)=>areas.push([{xAxis:g*100+4.9,yAxis:r[0],itemStyle:{color:'#ebebeb'}},{xAxis:g*100+95.1,yAxis:r[1]}]));
comparisons.forEach((c,g)=>areas.push([{name:c,xAxis:g*100,yAxis:.645,itemStyle:{color:bandColors[g]},label:{show:true,position:'inside',offset:[-19,3],color:'#f4f4f4',fontFamily:SANS,fontSize:41.5}},{xAxis:g*100+100,yAxis:-.645}]));
series.push({type:'scatter',name:'panels',data:[],silent:true,markArea:{silent:true,data:areas}});
series.push({type:'scatter',name:'Down',symbolSize:17,itemStyle:{color:'#3d92c6',opacity:1},data:[...shift(down1,0),...shift(down2,1),...shift(down3,2)]});
series.push({type:'scatter',name:'Up',symbolSize:17,itemStyle:{color:'#fb4c27',opacity:1},data:[...shift(up1,0),...shift(up2,1),...shift(up3,2)]});
grids.push({left:24,top:1312,width:32,height:464});
xAxes.push({type:'value',show:false,gridIndex:1});
yAxes.push({type:'value',gridIndex:1,position:'right',min:-3.3,max:3.34,splitLine:{show:false},axisLine:{show:false},axisTick:{show:false},
  axisLabel:{customValues:colorTicks,fontFamily:SERIF,fontSize:22,color:'#222',margin:12,formatter:v=>String(v).replace('-','\u2212')}});
grids.push({left:301,top:1314.6,width:557,height:22});
xAxes.push({type:'value',gridIndex:2,min:0,max:18,show:false});
yAxes.push({type:'category',gridIndex:2,data:['Stage'],show:false});
const stageColors=['#7BC1C9','#FFD806','#9DD63C'];
stages.forEach((s,i)=>series.push({type:'bar',name:s,xAxisIndex:2,yAxisIndex:2,stack:'stage',barWidth:'100%',itemStyle:{color:stageColors[i]},data:[6],silent:true}));
grids.push({left:195,top:1345,width:106,height:1626});
xAxes.push({type:'value',gridIndex:3,min:0,max:106,inverse:true,show:false});
yAxes.push({type:'value',gridIndex:3,min:0,max:250.9,inverse:true,show:false});
const leafTicks=[];
blocks.forEach(k=>{const n=rowsOf(k.b).length,st=(k.top-HT)/rowH;for(let i=0;i<n;i++)leafTicks.push([0,st+i+.5,4.5,st+i+.5]);});
series.push({type:'custom',xAxisIndex:3,yAxisIndex:3,silent:true,clip:false,data:[...dendroSegments,...leafTicks],encode:{x:[0,2],y:[1,3]},
  renderItem:(p,api)=>{const a=api.coord([api.value(0),api.value(1)]),b=api.coord([api.value(2),api.value(3)]);
    return {type:'line',shape:{x1:a[0],y1:a[1],x2:b[0],y2:b[1]},style:{stroke:'#000',lineWidth:2.6}};}});
const heatIdx=[];
blocks.forEach((k,i)=>{
  const gi=4+i,rows=rowsOf(k.b),last=i===2;
  grids.push({left:301,top:k.top,width:557,height:k.h});
  xAxes.push({type:'category',gridIndex:gi,data:samples,show:last,axisLine:{show:false},axisTick:{show:false},splitLine:{show:false},
    axisLabel:{rotate:90,interval:0,margin:6,fontFamily:SANS,fontSize:24,color:'#000'}});
  yAxes.push({type:'category',gridIndex:gi,inverse:true,data:rows.map((_,j)=>j),show:false});
  heatIdx.push(series.length);
  series.push({type:'heatmap',xAxisIndex:gi,yAxisIndex:gi,data:cellsOf(rows),silent:true,progressive:0,itemStyle:{borderWidth:0}});
});
function pie(names,values,nl,cx,cy,R,nudges){
  const mk=(label)=>values.map((v,i)=>({name:names[i]||('Other class '+i),value:v,
    itemStyle:{color:label?'rgba(0,0,0,0)':sliceColor(i)},
    label:{show:label&&i<nl,offset:nudges[i]||[0,0]}}));
  series.push({type:'pie',center:[cx,cy],radius:[0,R],startAngle:90,silent:true,label:{show:false},labelLine:{show:false},data:mk(false)});
  series.push({type:'pie',center:[cx,cy],radius:[R*.68,R],startAngle:90,silent:true,labelLine:{show:false},
    label:{position:'inside',formatter:'{c}',color:'#fff',fontFamily:SERIF,fontWeight:'bold',fontSize:66},data:mk(true)});
}
pie(pieIIINames,pieIIIValues,pieIIILabels,1290,1756,196,[[-8,8],[-14,0],[-8,-2],[4,6],[-2,4],[6,4],[-2,2],[-2,6]]);
pie(pieIINames,pieIIValues,pieIILabels,1287,2322,195,[[4,16],[6,6],[-4,-4]]);
pie(pieINames,pieIValues,pieILabels,1288,2749,197,[[2,8],[2,6]]);
function pieLegend(names,top,gap,big){
  return {show:true,orient:'vertical',left:1520,top:top,padding:0,itemWidth:23,itemHeight:23,itemGap:gap-28,icon:'rect',selectedMode:false,
    textStyle:{fontFamily:SANS,fontSize:29.2,color:'#000',padding:[0,0,0,6],height:26,lineHeight:26},
    data:names.map((n,i)=>{const o={name:n,itemStyle:{color:pieColors[i],borderWidth:0}};
      if(big&&i>=4)o.textStyle={fontSize:34,padding:[0,0,0,6],height:26,lineHeight:26,color:'#000',fontFamily:SANS};return o;})};
}
const option={animation:false,backgroundColor:'#fff',grid:grids,xAxis:xAxes,yAxis:yAxes,series,
  visualMap:[{type:'continuous',show:true,min:-3.3,max:3.34,left:24,top:1312,padding:0,itemWidth:32,itemHeight:464,calculable:false,hoverLink:false,seriesIndex:heatIdx,
    inRange:{color:['#0FAFD8','#7FC2C0','#B3CFB6','#F8DCAA','#FBB785','#F58A64','#EA4A2D']}}],
  legend:[
   {show:true,orient:'vertical',left:1748,top:-4,padding:0,itemWidth:17,itemHeight:17,itemGap:25,icon:'circle',selectedMode:false,data:['Down','Up'],
    textStyle:{fontFamily:SANS,fontSize:48.5,color:'#000',padding:[0,0,0,45]}},
   {show:true,orient:'vertical',left:111,top:1339,padding:0,itemWidth:30,itemHeight:31,itemGap:0,icon:'rect',selectedMode:false,data:stages,
    textStyle:{fontFamily:SANS,fontSize:21,color:'#000'}},
   pieLegend(pieIIINames,1611,51.4,false),
   pieLegend(pieIINames,2188,51.4,false),
   pieLegend(pieINames,2620,50.8,true)],
  graphic:[
   {type:'text',x:4,y:13,style:{text:'A',font:'bold 107px '+SANS,fill:'#000'}},
   {type:'text',x:4,y:1196,style:{text:'B',font:'bold 107px '+SANS,fill:'#000'}},
   {type:'text',x:109,y:1322,style:{text:'Stage',font:'24px '+SANS,fill:'#000',verticalAlign:'middle'}},
   {type:'rect',shape:{x:1016,y:1347,width:24,height:818},style:{fill:'#00C8A5'}},
   {type:'rect',shape:{x:1016,y:2206,width:24,height:260},style:{fill:'#00C8A5'}},
   {type:'rect',shape:{x:1016,y:2506,width:24,height:455},style:{fill:'#00C8A5'}},
   {type:'text',x:979,y:1755,rotation:Math.PI/2,style:{text:'GroupIII',font:'bold 55px '+SERIF,fill:'#000',align:'center',verticalAlign:'middle'}},
   {type:'text',x:979,y:2341,rotation:Math.PI/2,style:{text:'GroupII',font:'bold 56px '+SERIF,fill:'#000',align:'center',verticalAlign:'middle'}},
   {type:'text',x:979,y:2735,rotation:Math.PI/2,style:{text:'GroupI',font:'bold 55px '+SERIF,fill:'#000',align:'center',verticalAlign:'middle'}}
  ]};
echarts.init(document.getElementById('c')).setOption(option);
</script></body></html>
